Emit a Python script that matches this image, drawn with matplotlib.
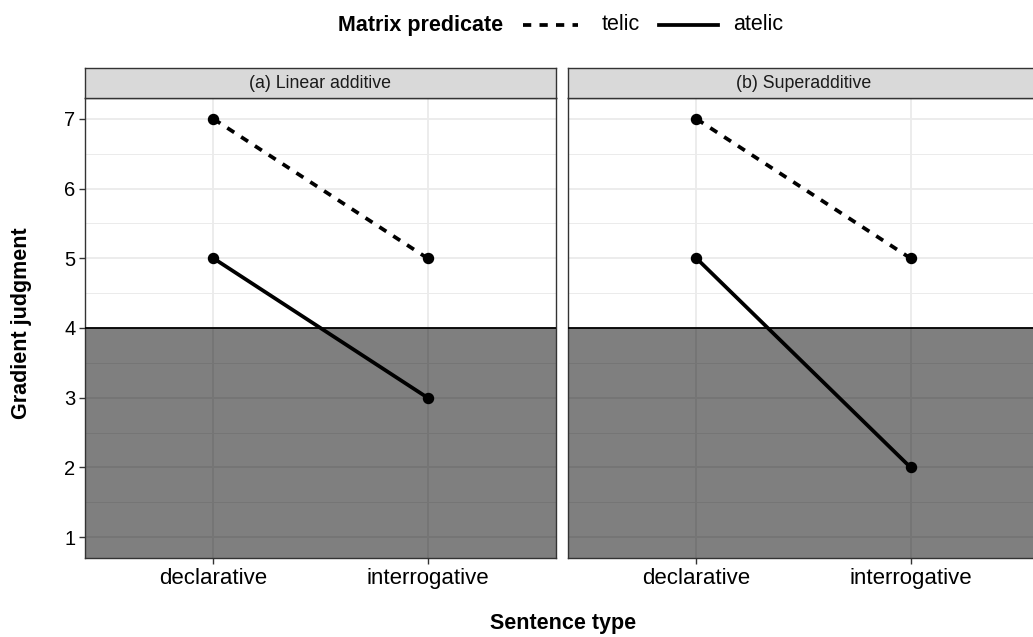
import matplotlib
matplotlib.use("Agg")
import matplotlib.pyplot as plt
from matplotlib.lines import Line2D
from matplotlib.patches import Rectangle

plt.rcParams['font.family'] = ['Liberation Sans', 'DejaVu Sans']

categories = ["declarative", "interrogative"]
panels = ["(a) Linear additive", "(b) Superadditive"]
telic = [[7, 5], [7, 5]]
atelic = [[5, 3], [5, 2]]
y_ticks = [1, 2, 3, 4, 5, 6, 7]
threshold = 4

W, H = 1033, 637
fig = plt.figure(figsize=(W / 100, H / 100), dpi=100)

def fx(px):
    return px / W

def fy(py):
    return 1 - py / H

panel_lefts = [85, 568]
panel_w = 471
top, bottom = 98, 558
strip_top = 68

for i, left in enumerate(panel_lefts):
    ax = fig.add_axes([fx(left), fy(bottom), panel_w / W, (bottom - top) / H])
    ax.set_facecolor("white")
    x = list(range(1, len(categories) + 1))
    ax.set_xlim(0.4, 2.6)
    ax.set_ylim(0.7, 7.3)
    ax.set_xticks(x)
    ax.set_xticklabels(categories, fontsize=16)
    ax.set_yticks(y_ticks)
    ax.set_yticks([v + 0.5 for v in y_ticks[:-1]], minor=True)
    ax.grid(True, which='major', color='#ebebeb', linewidth=1.3, zorder=0)
    ax.grid(True, which='minor', axis='y', color='#ebebeb', linewidth=0.7, zorder=0)
    ax.set_axisbelow(True)
    ax.tick_params(axis='both', which='major', colors='#333333', labelcolor='black',
                   length=4, width=1, pad=3)
    ax.tick_params(axis='y', which='minor', length=0)
    if i == 0:
        ax.set_yticklabels([str(v) for v in y_ticks], fontsize=14.5)
    else:
        ax.tick_params(axis='y', which='major', length=0, labelleft=False)
    for s in ax.spines.values():
        s.set_color('#333333')
        s.set_linewidth(1.0)
    # shaded region below threshold
    ax.add_patch(Rectangle((0.4, 0.7), 2.2, threshold - 0.7, facecolor='black',
                           alpha=0.5, edgecolor='none', zorder=2))
    ax.axhline(threshold, color='black', linewidth=1.3, zorder=3)
    ax.plot(x, telic[i], color='black', linestyle=(0, (2.2, 2.2)), linewidth=2.7, zorder=4,
            dash_capstyle='butt')
    ax.plot(x, atelic[i], color='black', linestyle='-', linewidth=2.7, zorder=4)
    ax.scatter(x, telic[i], s=52, color='black', zorder=5)
    ax.scatter(x, atelic[i], s=52, color='black', zorder=5)

    # strip
    sax = fig.add_axes([fx(left), fy(top), panel_w / W, (top - strip_top) / H])
    sax.set_facecolor('#d9d9d9')
    sax.set_xticks([])
    sax.set_yticks([])
    for s in sax.spines.values():
        s.set_color('#333333')
        s.set_linewidth(1.0)
    sax.text(0.5, 0.5, panels[i], ha='center', va='center', fontsize=12.8,
             color='#1a1a1a', transform=sax.transAxes)

# axis titles
fig.text(fx(22), fy(323), "Gradient judgment", rotation=90, ha='center', va='center',
         fontsize=15.5, fontweight='bold')
fig.text(fx(563), fy(624), "Sentence type", ha='center', va='center',
         fontsize=15.5, fontweight='bold')

# legend
ly = fy(25)
fig.text(fx(503), ly, "Matrix predicate", ha='right', va='center', fontsize=15.5,
         fontweight='bold')
fig.add_artist(Line2D([fx(523), fx(578)], [ly, ly], color='black', linewidth=2.7,
                      linestyle=(0, (2.2, 2.2)), transform=fig.transFigure))
fig.text(fx(602), ly, "telic", ha='left', va='center', fontsize=15.5)
fig.add_artist(Line2D([fx(659), fx(718)], [ly, ly], color='black', linewidth=2.7,
                      transform=fig.transFigure))
fig.text(fx(733), ly, "atelic", ha='left', va='center', fontsize=15.5)

fig.savefig("out.png", dpi=100)
